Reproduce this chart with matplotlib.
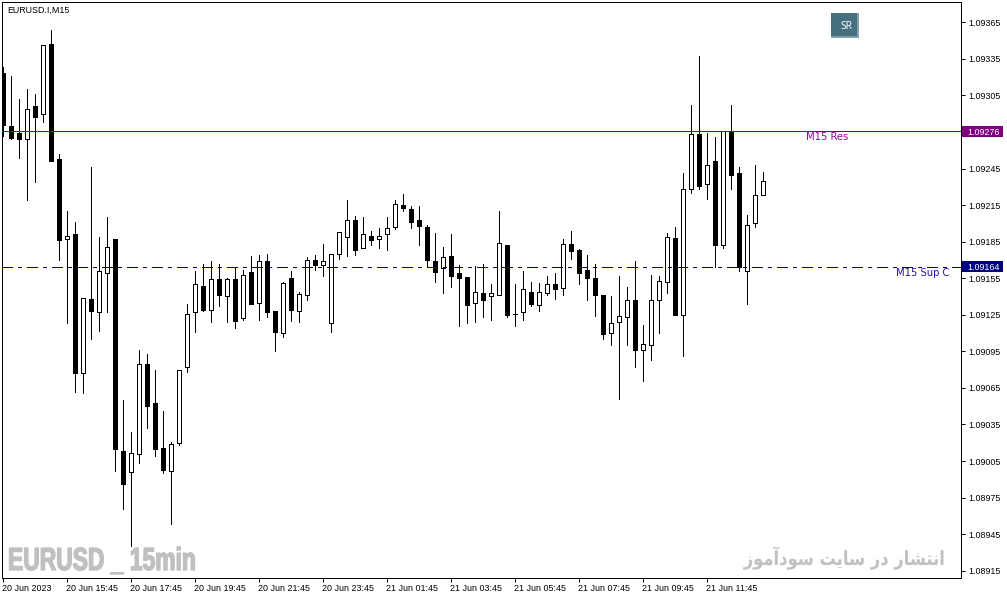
"""EURUSD M15 candlestick chart, terminal style."""

import matplotlib
matplotlib.use("Agg")
import matplotlib.pyplot as plt
import numpy as np
from matplotlib.patches import Rectangle
from matplotlib.patheffects import AbstractPathEffect
from matplotlib.transforms import Affine2D, ScaledTranslation

opens = [
    1.09323, 1.09280, 1.09274, 1.09269, 1.09296, 1.09290, 1.09347, 1.09253, 1.09187, 1.09191, 1.09077, 1.09138,
    1.09127, 1.09159, 1.09187, 1.09013, 1.08996, 1.09011, 1.09085, 1.09053, 1.09016, 1.08997, 1.09020, 1.09082,
    1.09127, 1.09149, 1.09129, 1.09154, 1.09140, 1.09154, 1.09122, 1.09160, 1.09135, 1.09169, 1.09128, 1.09110,
    1.09155, 1.09128, 1.09141, 1.09170, 1.09166, 1.09118, 1.09175, 1.09189, 1.09203, 1.09180, 1.09190, 1.09187,
    1.09191, 1.09197, 1.09215, 1.09212, 1.09203, 1.09197, 1.09169, 1.09163, 1.09173, 1.09159, 1.09156, 1.09135,
    1.09143, 1.09140, 1.09141, 1.09182, 1.09126, 1.09127, 1.09144, 1.09133, 1.09143, 1.09150, 1.09147, 1.09183,
    1.09178, 1.09162, 1.09155, 1.09141, 1.09110, 1.09119, 1.09123, 1.09137, 1.09096, 1.09100, 1.09137, 1.09152,
    1.09188, 1.09125, 1.09228, 1.09273, 1.09232, 1.09251, 1.09182, 1.09276, 1.09241, 1.09161, 1.09200, 1.09223,
]
highs = [
    1.09328, 1.09321, 1.09302, 1.09310, 1.09306, 1.09346, 1.09359, 1.09257, 1.09210, 1.09201, 1.09139, 1.09246,
    1.09189, 1.09205, 1.09187, 1.09055, 1.09029, 1.09096, 1.09093, 1.09080, 1.09046, 1.09021, 1.09080, 1.09134,
    1.09161, 1.09167, 1.09169, 1.09167, 1.09155, 1.09163, 1.09162, 1.09173, 1.09174, 1.09175, 1.09128, 1.09152,
    1.09161, 1.09144, 1.09172, 1.09174, 1.09183, 1.09175, 1.09193, 1.09219, 1.09206, 1.09205, 1.09194, 1.09196,
    1.09205, 1.09219, 1.09224, 1.09214, 1.09214, 1.09199, 1.09192, 1.09181, 1.09191, 1.09166, 1.09156, 1.09165,
    1.09167, 1.09150, 1.09210, 1.09182, 1.09150, 1.09161, 1.09152, 1.09151, 1.09157, 1.09159, 1.09187, 1.09194,
    1.09179, 1.09174, 1.09167, 1.09141, 1.09140, 1.09157, 1.09148, 1.09169, 1.09117, 1.09158, 1.09157, 1.09192,
    1.09197, 1.09241, 1.09297, 1.09337, 1.09274, 1.09271, 1.09276, 1.09297, 1.09246, 1.09207, 1.09248, 1.09242,
]
lows = [
    1.09272, 1.09269, 1.09254, 1.09219, 1.09234, 1.09283, 1.09251, 1.09170, 1.09118, 1.09062, 1.09061, 1.09105,
    1.09112, 1.09127, 1.08997, 1.08966, 1.08935, 1.09003, 1.09032, 1.09009, 1.08995, 1.08953, 1.09018, 1.09078,
    1.09111, 1.09128, 1.09119, 1.09132, 1.09119, 1.09114, 1.09121, 1.09134, 1.09121, 1.09123, 1.09095, 1.09107,
    1.09120, 1.09119, 1.09137, 1.09162, 1.09157, 1.09111, 1.09171, 1.09173, 1.09174, 1.09180, 1.09182, 1.09180,
    1.09178, 1.09195, 1.09210, 1.09196, 1.09182, 1.09164, 1.09152, 1.09143, 1.09148, 1.09116, 1.09118, 1.09119,
    1.09123, 1.09121, 1.09141, 1.09123, 1.09116, 1.09121, 1.09132, 1.09128, 1.09141, 1.09138, 1.09141, 1.09171,
    1.09150, 1.09137, 1.09124, 1.09105, 1.09100, 1.09056, 1.09100, 1.09082, 1.09071, 1.09088, 1.09110, 1.09143,
    1.09125, 1.09091, 1.09225, 1.09228, 1.09220, 1.09164, 1.09180, 1.09228, 1.09161, 1.09134, 1.09197, 1.09223,
]
closes = [
    1.09281, 1.09270, 1.09269, 1.09294, 1.09287, 1.09346, 1.09251, 1.09186, 1.09190, 1.09077, 1.09139, 1.09128,
    1.09161, 1.09181, 1.09015, 1.08986, 1.09012, 1.09085, 1.09050, 1.09015, 1.08998, 1.09019, 1.09080, 1.09126,
    1.09150, 1.09129, 1.09154, 1.09141, 1.09154, 1.09120, 1.09158, 1.09134, 1.09169, 1.09127, 1.09111, 1.09151,
    1.09129, 1.09142, 1.09170, 1.09166, 1.09169, 1.09175, 1.09193, 1.09203, 1.09178, 1.09191, 1.09186, 1.09190,
    1.09196, 1.09216, 1.09213, 1.09201, 1.09198, 1.09170, 1.09160, 1.09172, 1.09157, 1.09155, 1.09133, 1.09144,
    1.09137, 1.09143, 1.09184, 1.09125, 1.09126, 1.09146, 1.09134, 1.09144, 1.09150, 1.09146, 1.09183, 1.09177,
    1.09159, 1.09155, 1.09141, 1.09109, 1.09118, 1.09124, 1.09137, 1.09096, 1.09101, 1.09137, 1.09153, 1.09189,
    1.09125, 1.09228, 1.09273, 1.09231, 1.09248, 1.09182, 1.09276, 1.09240, 1.09164, 1.09199, 1.09223, 1.09235,
]

price_ticks = [1.09365, 1.09335, 1.09305, 1.09245, 1.09215, 1.09185, 1.09155, 1.09125, 1.09095,
               1.09065, 1.09035, 1.09005, 1.08975, 1.08945, 1.08915]
time_tick_bars = [0, 8, 16, 24, 32, 40, 48, 56, 64, 72, 80, 88]
time_labels = ["20 Jun 2023", "20 Jun 15:45", "20 Jun 17:45", "20 Jun 19:45", "20 Jun 21:45", "20 Jun 23:45",
               "21 Jun 01:45", "21 Jun 03:45", "21 Jun 05:45", "21 Jun 07:45", "21 Jun 09:45", "21 Jun 11:45"]
resistance = 1.09276
support = 1.09164

# presentation forms in visual order, matplotlib does no Arabic shaping or bidi
persian_note = ("\uFEAF\uFEEE\uFEE3\uFE81\uFEA9\uFEEE\uFEB3 \uFE96\uFEF3\uFE8E\uFEB3 \uFEAD\uFEA9 "
                "\uFEAD\uFE8E\uFEB8\uFE98\uFEE7\uFE8D")

W, H = 1007, 599
PX = 0.72
PURPLE = "#800080"
NAVY = "#000080"
GREY = "#c0c0c0"
UI_FONT = "Liberation Sans"

plt.rcParams["lines.scale_dashes"] = False


def fx(x):
    return x / W


def fy(y):
    return 1 - y / H


class SqueezeX(AbstractPathEffect):
    """Narrows drawn text about a pixel column, no condensed face is installed."""

    def __init__(self, x0, factor, stroke=0.0):
        super().__init__()
        self.x0, self.factor, self.stroke = x0, factor, stroke

    def draw_path(self, renderer, gc, tpath, affine, rgbFace=None):
        squeeze = Affine2D().translate(-self.x0, 0).scale(self.factor, 1).translate(self.x0, 0)
        gc0 = renderer.new_gc()
        gc0.copy_properties(gc)
        gc0.set_linewidth(self.stroke)
        gc0.set_foreground(rgbFace)
        renderer.draw_path(gc0, tpath, affine + squeeze, rgbFace)
        gc0.restore()


fig = plt.figure(figsize=(W / 100, H / 100), dpi=100, facecolor="white")
ax = fig.add_axes([fx(2), 21 / H, fx(959), 576 / H])
ax.set_xlim(-0.125, 119.75)
ax.set_ylim(1.0890905, 1.093816)
for s in ax.spines.values():
    s.set_linewidth(PX)

o = np.array(opens)
c = np.array(closes)
x = np.arange(len(o))
up = c >= o
ax.vlines(x, lows, highs, color="black", linewidth=PX, antialiased=False, zorder=2)
ax.bar(x, np.abs(c - o), bottom=np.minimum(o, c), width=0.5,
       color=np.where(up, "white", "black").tolist(), edgecolor="black",
       linewidth=PX, antialiased=False, zorder=3)

ax.axhline(resistance, color=PURPLE, linewidth=PX, antialiased=False, zorder=4)
ax.axhline(support, color=NAVY, linewidth=PX, linestyle=(0, (7.2, 3.6, 2.2, 4.3)), antialiased=False, zorder=4)

# y axis, the two level prices get coloured tags instead of plain labels
ax.yaxis.tick_right()
ax.set_yticks(price_ticks + [resistance, support])
ax.set_yticklabels([f"{p:.5f}" for p in price_ticks] + ["", ""], fontsize=6.4, family=UI_FONT)
ax.tick_params(axis="y", length=2.6, width=PX, pad=2.6)
ax.set_xticks(time_tick_bars)
ax.set_xticklabels(time_labels, fontsize=6.4, family=UI_FONT, ha="left")
ax.tick_params(axis="x", length=2.6, width=PX, pad=1.8)
shift = ScaledTranslation(-1.5 / 100, 0, fig.dpi_scale_trans)
for lab in ax.get_xticklabels():
    lab.set_transform(lab.get_transform() + shift)

for price, nudge, col in ((resistance, -0.6e-5, PURPLE), (support, 0.6e-5, NAVY)):
    mid = price + nudge
    ax.add_patch(Rectangle((1.00156, mid - 4.5e-5), 0.04275, 9e-5, transform=ax.get_yaxis_transform(),
                           facecolor=col, edgecolor="none", clip_on=False, zorder=5))
    ax.text(1.0068, mid, f"{price:.5f}", transform=ax.get_yaxis_transform(), color="white",
            fontsize=6.4, family=UI_FONT, va="center_baseline", ha="left", clip_on=False, zorder=6)

fig.text(fx(7), fy(10), "EURUSD.I,M15", fontsize=6.4, family=UI_FONT, va="center", ha="left")
fig.text(fx(805.5), fy(137.5), "M15 Res", fontsize=7.2, color="#a000a0", va="center", ha="left")
fig.text(fx(895.5), fy(273.5), "M15 Sup C", fontsize=7.2, color="#2a10a8", va="center", ha="left")

# SR button
fig.add_artist(Rectangle((fx(831), fy(38)), 28 / W, 25 / H, transform=fig.transFigure,
                         facecolor="#7da2ae", edgecolor="none"))
fig.add_artist(Rectangle((fx(831), fy(36)), 26 / W, 23 / H, transform=fig.transFigure,
                         facecolor="#47707f", edgecolor="none"))
fig.text(fx(846), fy(26.5), "SR", fontsize=7.4, color="white", family="Open Sans", va="center", ha="center")

# watermarks
fig.text(fx(8), fy(570), "EURUSD _ 15min", fontsize=23, fontweight="bold", color=GREY,
         family="Liberation Sans", va="baseline", ha="left",
         path_effects=[SqueezeX(8, 0.715, stroke=1.0)])
fig.text(fx(946), fy(565), persian_note, fontsize=14, fontweight="bold", color=GREY,
         family="DejaVu Sans", va="baseline", ha="right",
         path_effects=[SqueezeX(946, 0.84)])

fig.savefig("out.png", dpi=100, facecolor="white")
